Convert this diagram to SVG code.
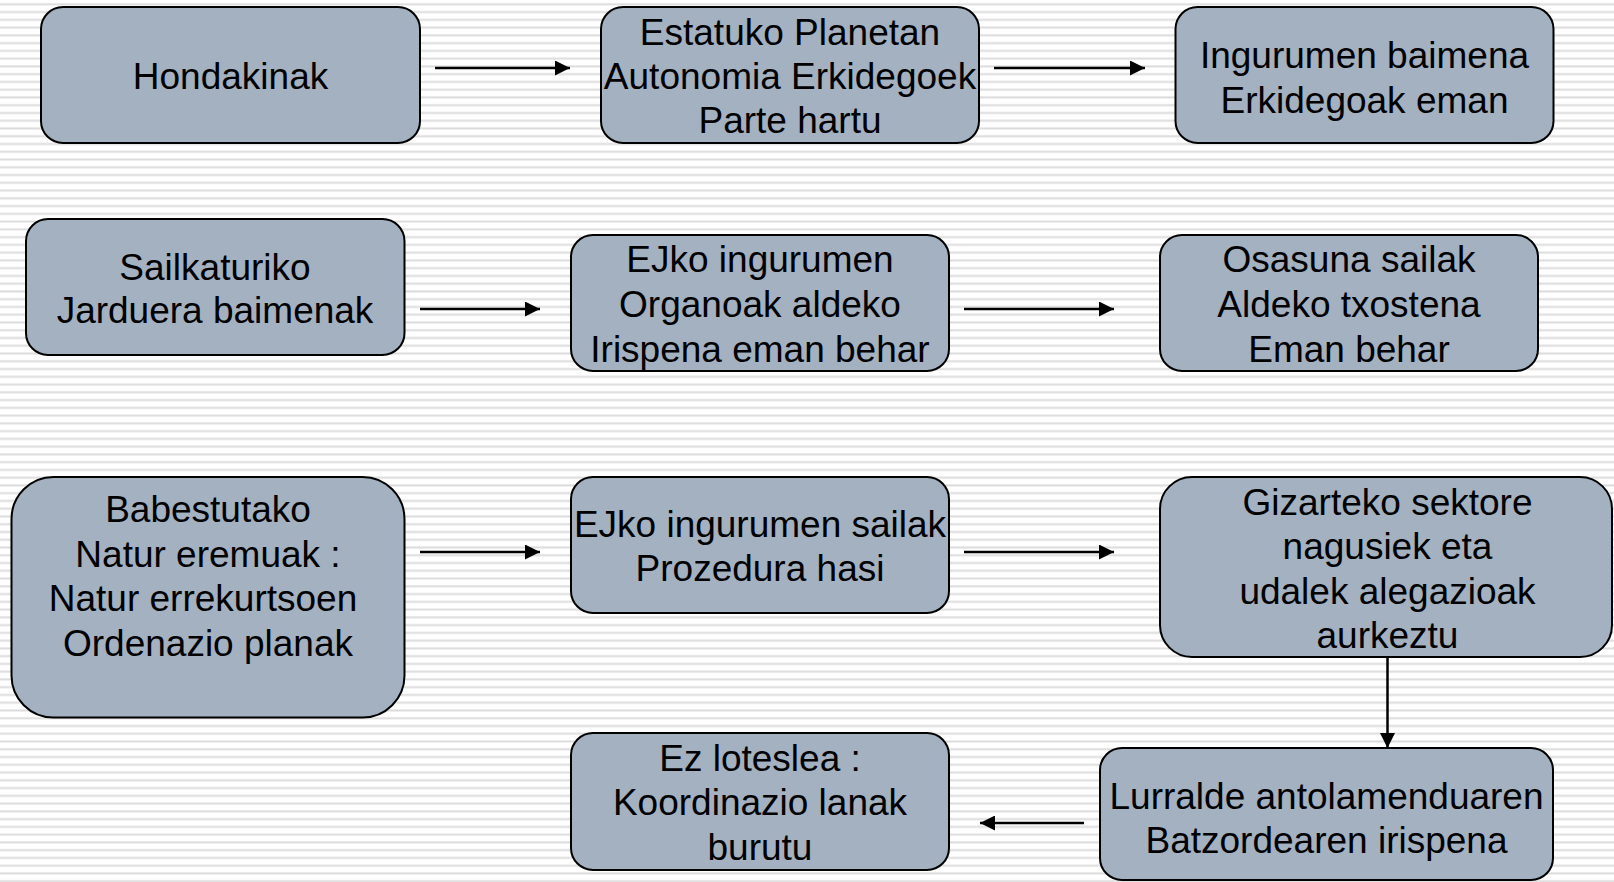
<svg xmlns="http://www.w3.org/2000/svg" width="1614" height="882" viewBox="0 0 1614 882">
  <defs>
    <pattern id="stripes" patternUnits="userSpaceOnUse" x="0" y="0" width="20" height="7.76">
      <rect x="0" y="0" width="20" height="7.76" fill="#ffffff"/>
      <rect x="0" y="3.3" width="20" height="2" fill="#dcdcdc"/>
    </pattern>
    <marker id="arrow" viewBox="0 0 15 15" refX="15" refY="7.5" markerUnits="userSpaceOnUse" markerWidth="15" markerHeight="15" orient="auto">
      <path d="M0,0 L15,7.5 L0,15 Z" fill="#000000"/>
    </marker>
  </defs>
  <style>
    .box { fill: #a3b1c1; stroke: #000000; stroke-width: 2; }
    .lbl { font-family: "Liberation Sans", Arial, sans-serif; font-size: 37px; fill: #000000; text-anchor: middle; }
    .conn { stroke: #000000; stroke-width: 2.5; fill: none; marker-end: url(#arrow); }
  </style>
  <rect x="0" y="0" width="1614" height="882" fill="url(#stripes)"/>

  <g id="connectors">
    <line class="conn" x1="435" y1="68" x2="570" y2="68"/>
    <line class="conn" x1="994" y1="68" x2="1145" y2="68"/>
    <line class="conn" x1="420" y1="309" x2="540" y2="309"/>
    <line class="conn" x1="964" y1="309" x2="1114" y2="309"/>
    <line class="conn" x1="420" y1="552" x2="540" y2="552"/>
    <line class="conn" x1="964" y1="552" x2="1114" y2="552"/>
    <line class="conn" x1="1387.5" y1="657" x2="1387.5" y2="748"/>
    <line class="conn" x1="1084" y1="823" x2="980" y2="823"/>
  </g>

  <g id="node-hondakinak">
    <rect class="box" x="41" y="7" width="379" height="136" rx="22" ry="22"/>
    <text class="lbl" x="230.5" y="89">Hondakinak</text>
  </g>
  <g id="node-estatuko">
    <rect class="box" x="601" y="7" width="378" height="136" rx="22" ry="22"/>
    <text class="lbl" x="790" y="45">Estatuko Planetan</text>
    <text class="lbl" x="790" y="89">Autonomia Erkidegoek</text>
    <text class="lbl" x="790" y="133">Parte hartu</text>
  </g>
  <g id="node-ingurumen-baimena">
    <rect class="box" x="1175.5" y="7" width="378" height="136" rx="22" ry="22"/>
    <text class="lbl" x="1364.5" y="67.5">Ingurumen baimena</text>
    <text class="lbl" x="1364.5" y="112.5">Erkidegoak eman</text>
  </g>

  <g id="node-sailkaturiko">
    <rect class="box" x="26" y="219" width="378.5" height="136" rx="22" ry="22"/>
    <text class="lbl" x="215" y="280">Sailkaturiko</text>
    <text class="lbl" x="215" y="323">Jarduera baimenak</text>
  </g>
  <g id="node-ejko-organoak">
    <rect class="box" x="571" y="235" width="378" height="136" rx="22" ry="22"/>
    <text class="lbl" x="760" y="271.5">EJko ingurumen</text>
    <text class="lbl" x="760" y="316.5">Organoak aldeko</text>
    <text class="lbl" x="760" y="361.5">Irispena eman behar</text>
  </g>
  <g id="node-osasuna">
    <rect class="box" x="1160" y="235" width="378" height="136" rx="22" ry="22"/>
    <text class="lbl" x="1349" y="271.5">Osasuna sailak</text>
    <text class="lbl" x="1349" y="316.5">Aldeko txostena</text>
    <text class="lbl" x="1349" y="361.5">Eman behar</text>
  </g>

  <g id="node-babestutako">
    <rect class="box" x="11.5" y="477" width="393" height="240.5" rx="42" ry="42"/>
    <text class="lbl" x="208" y="521.5">Babestutako</text>
    <text class="lbl" x="208" y="566.5">Natur eremuak :</text>
    <text class="lbl" x="203" y="611">Natur errekurtsoen</text>
    <text class="lbl" x="208" y="656">Ordenazio planak</text>
  </g>
  <g id="node-ejko-sailak">
    <rect class="box" x="571" y="477" width="378" height="136" rx="22" ry="22"/>
    <text class="lbl" x="760" y="537">EJko ingurumen sailak</text>
    <text class="lbl" x="760" y="581">Prozedura hasi</text>
  </g>
  <g id="node-gizarteko">
    <rect class="box" x="1160" y="477" width="452" height="180" rx="32" ry="32"/>
    <text class="lbl" x="1387.5" y="514.5">Gizarteko sektore</text>
    <text class="lbl" x="1387.5" y="558.5">nagusiek eta</text>
    <text class="lbl" x="1387.5" y="604">udalek alegazioak</text>
    <text class="lbl" x="1387.5" y="648">aurkeztu</text>
  </g>
  <g id="node-lurralde">
    <rect class="box" x="1100" y="748" width="453" height="132" rx="22" ry="22"/>
    <text class="lbl" x="1326.5" y="809">Lurralde antolamenduaren</text>
    <text class="lbl" x="1326.5" y="853">Batzordearen irispena</text>
  </g>
  <g id="node-ez-loteslea">
    <rect class="box" x="571" y="733" width="378" height="137" rx="22" ry="22"/>
    <text class="lbl" x="760" y="770.5">Ez loteslea :</text>
    <text class="lbl" x="760" y="815">Koordinazio lanak</text>
    <text class="lbl" x="760" y="860">burutu</text>
  </g>
</svg>
